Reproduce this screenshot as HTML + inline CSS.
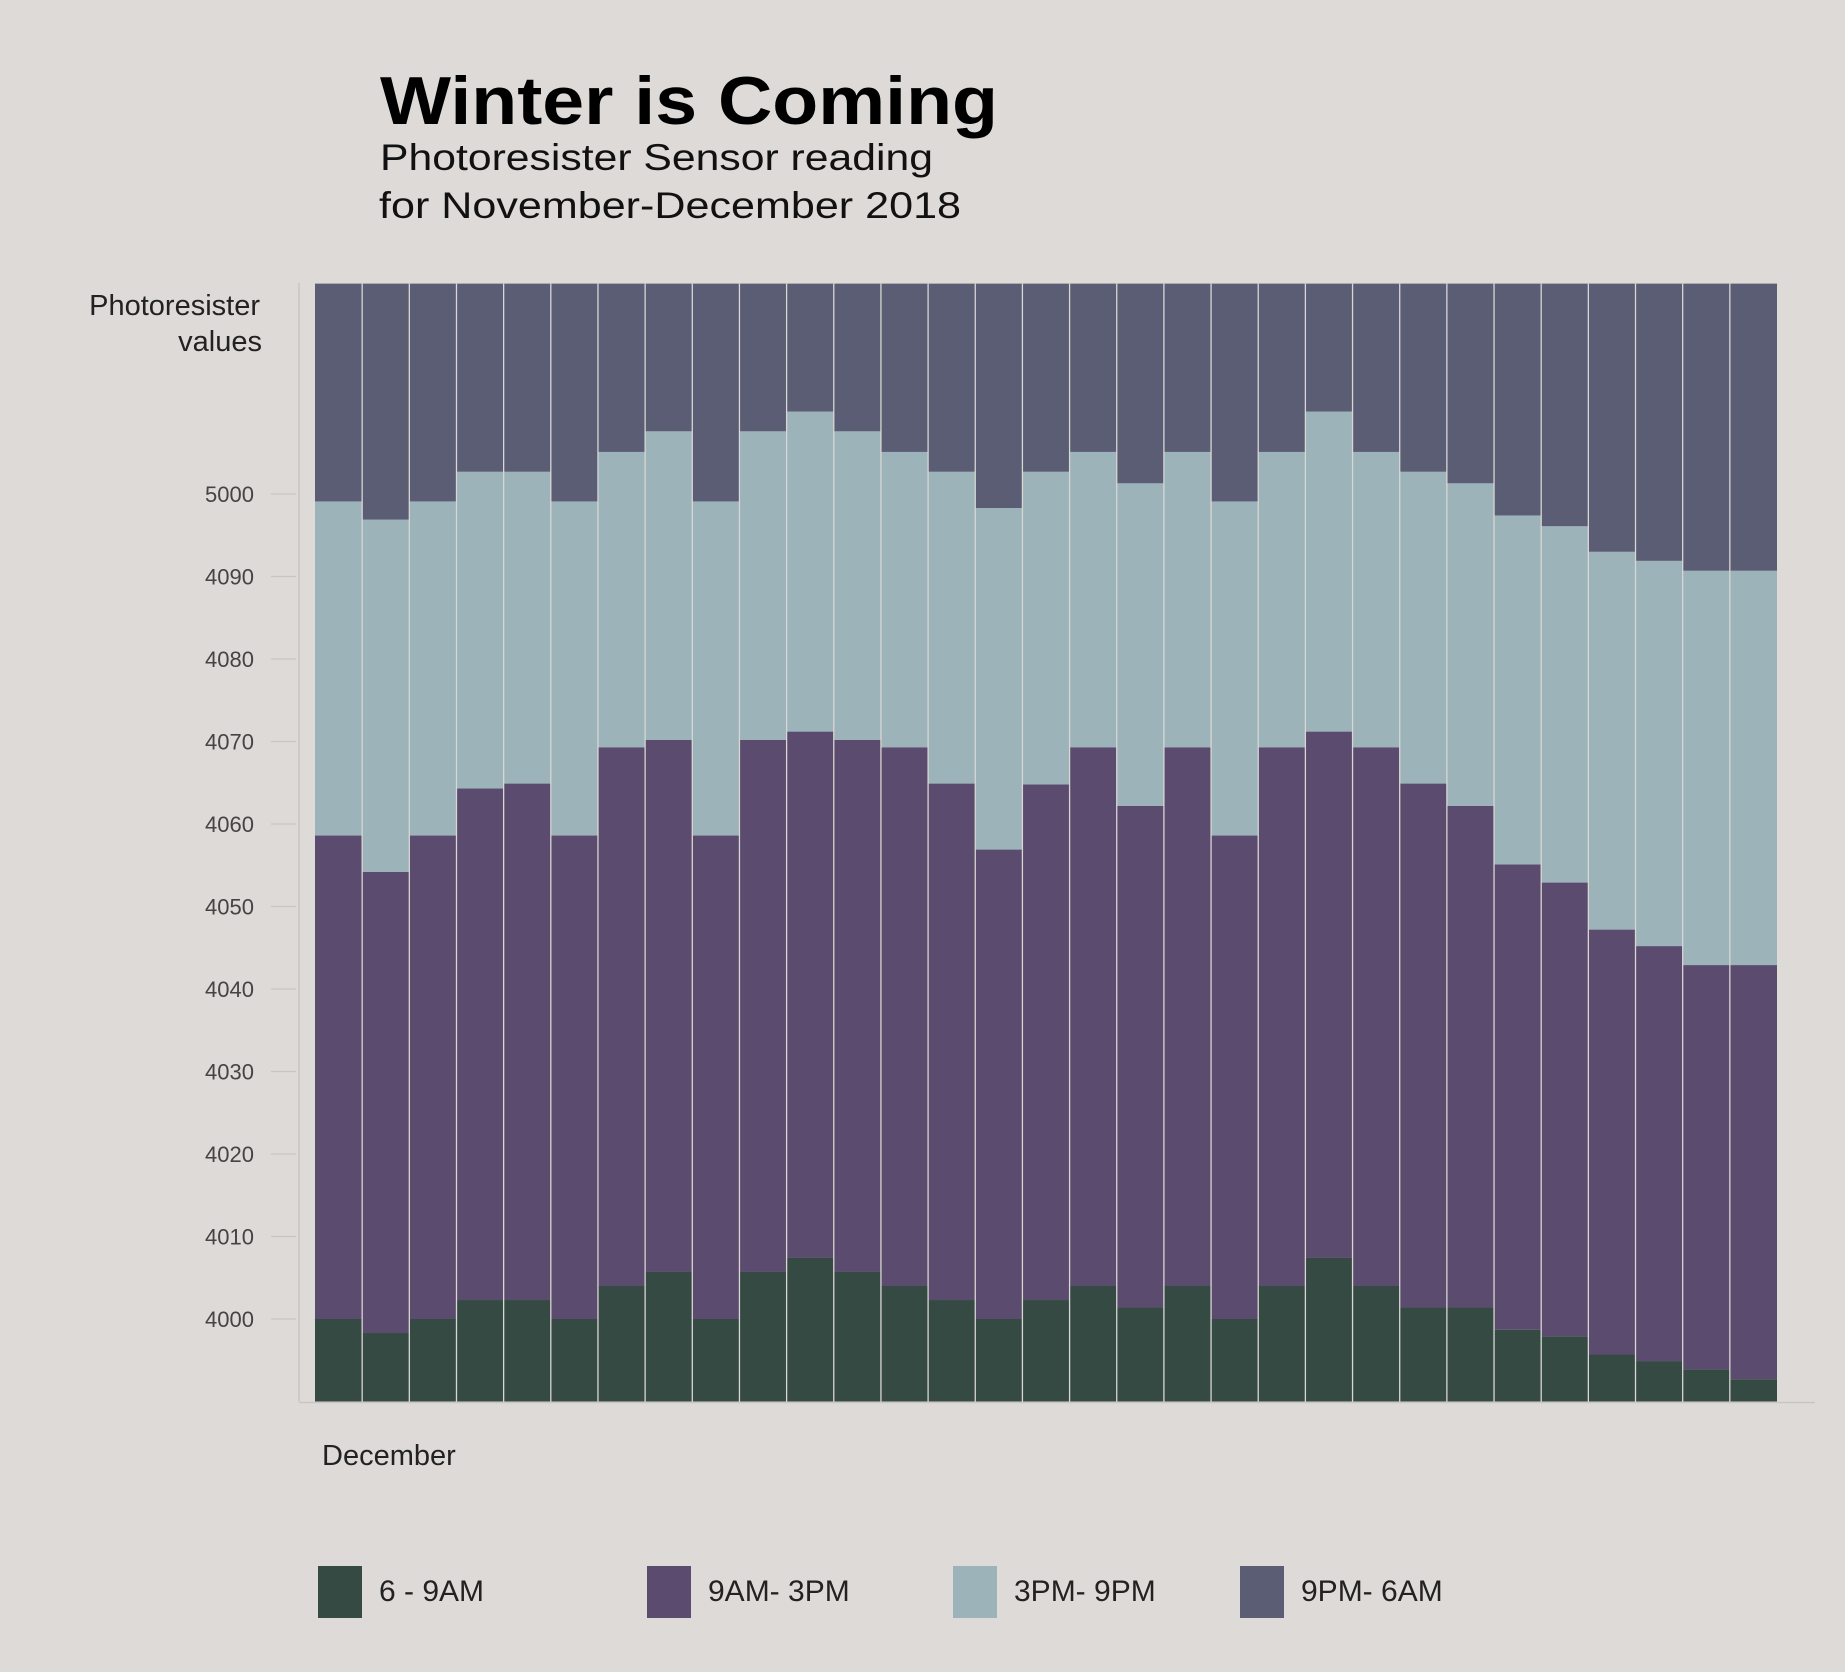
<!DOCTYPE html>
<html><head><meta charset="utf-8"><style>
body{margin:0;background:#dddad7;width:1845px;height:1667px;overflow:hidden;font-family:"Liberation Sans",sans-serif;}
</style></head><body>
<svg id="chart" width="1845" height="1667" xmlns="http://www.w3.org/2000/svg">
<rect width="1845" height="1667" fill="#dddad7"/>
<text x="380" y="124" font-size="68" font-weight="bold" fill="#000" textLength="618" lengthAdjust="spacingAndGlyphs">Winter is Coming</text>
<text x="380" y="170" font-size="37" fill="#111" textLength="553" lengthAdjust="spacingAndGlyphs">Photoresister Sensor reading</text>
<text x="379" y="218" font-size="37" fill="#111" textLength="582" lengthAdjust="spacingAndGlyphs">for November-December 2018</text>
<text x="260" y="315" font-size="29" text-anchor="end" fill="#222">Photoresister</text>
<text x="262" y="351" font-size="29" text-anchor="end" fill="#222">values</text>
<text x="322" y="1465" font-size="29" fill="#222">December</text>
<g id="bars"></g>
<g id="axes"></g>
<g id="legend"></g>
</svg>
<script>
const seriesNames=["6 - 9AM","9AM- 3PM","3PM- 9PM","9PM- 6AM"];
const colors=["#344a43","#5b4b6e","#9bb3b9","#5a5d73"];
const lvl1=[4000,3998.3,4000,4002.3,4002.3,4000,4004,4005.7,4000,4005.7,4007.4,4005.7,4004,4002.3,4000,4002.3,4004,4001.4,4004,4000,4004,4007.4,4004,4001.4,4001.4,3998.7,3997.9,3995.7,3994.9,3993.9,3992.7];
const lvl2=[4058.6,4054.2,4058.6,4064.3,4064.9,4058.6,4069.3,4070.2,4058.6,4070.2,4071.2,4070.2,4069.3,4064.9,4056.9,4064.8,4069.3,4062.2,4069.3,4058.6,4069.3,4071.2,4069.3,4064.9,4062.2,4055.1,4052.9,4047.2,4045.2,4042.9,4042.9];
const lvl3=[4099.1,4096.9,4099.1,4102.7,4102.7,4099.1,4105.1,4107.6,4099.1,4107.6,4110,4107.6,4105.1,4102.7,4098.3,4102.7,4105.1,4101.3,4105.1,4099.1,4105.1,4110,4105.1,4102.7,4101.3,4097.4,4096.1,4093,4091.9,4090.7,4090.7];
const lvl4=[4125.5,4125.5,4125.5,4125.5,4125.5,4125.5,4125.5,4125.5,4125.5,4125.5,4125.5,4125.5,4125.5,4125.5,4125.5,4125.5,4125.5,4125.5,4125.5,4125.5,4125.5,4125.5,4125.5,4125.5,4125.5,4125.5,4125.5,4125.5,4125.5,4125.5,4125.5];
const tickValues=[4000,4010,4020,4030,4040,4050,4060,4070,4080,4090,4100];
const tickLabels=["4000","4010","4020","4030","4040","4050","4060","4070","4080","4090","5000"];
const base=3990;
const NS="http://www.w3.org/2000/svg";
const plotL=315,plotR=1777,plotB=1401.5;
function y(v){return 1319-(v-4000)*8.25;}
function xPos(i){return plotL+i*(plotR-plotL)/lvl1.length;}
const bw=(plotR-plotL)/lvl1.length;
function mk(t,a,p){const e=document.createElementNS(NS,t);for(const k in a)e.setAttribute(k,a[k]);p.appendChild(e);return e;}
const bars=document.getElementById('bars');
const levels=[lvl1,lvl2,lvl3,lvl4];
for(let i=0;i<lvl1.length;i++){
  let prev=base;
  for(let s=0;s<4;s++){
    const top=levels[s][i];
    const r=mk('rect',{x:xPos(i),y:y(top),width:bw,height:Math.max(0,y(prev)-y(top)),fill:colors[s]},bars);
    
    
    prev=top;
  }
  if(i>0){const l=mk('line',{x1:xPos(i),x2:xPos(i),y1:y(lvl4[i]),y2:plotB,stroke:"#d9d6d3","stroke-width":1.3},bars);
    
    }
}
const axes=document.getElementById('axes');
const ya=mk('line',{x1:299,x2:299,y1:283,y2:plotB,stroke:"#c9c5c2","stroke-width":1.5},axes);


const xa=mk('line',{x1:299,x2:1815,y1:plotB+1,y2:plotB+1,stroke:"#c9c5c2","stroke-width":1.5},axes);


tickValues.forEach((v,i)=>{
  const t=mk('line',{x1:271,x2:296,y1:y(v),y2:y(v),stroke:"#c9c5c2","stroke-width":1.2},axes);
  
  
  const tx=mk('text',{x:254,y:y(v)+8,"font-size":22,"text-anchor":"end",fill:"#444"},axes);
  tx.textContent=tickLabels[i];
  
  
});
const legend=document.getElementById('legend');
const lx=[318,647,953,1240];
seriesNames.forEach((n,i)=>{
  const g=mk('g',{},legend);
  
  
  mk('rect',{x:lx[i],y:1566,width:44,height:52,fill:colors[i]},g);
  const t=mk('text',{x:lx[i]+61,y:1601,"font-size":30,fill:"#222"},g);
  t.textContent=n;
});
</script>
</body></html>
